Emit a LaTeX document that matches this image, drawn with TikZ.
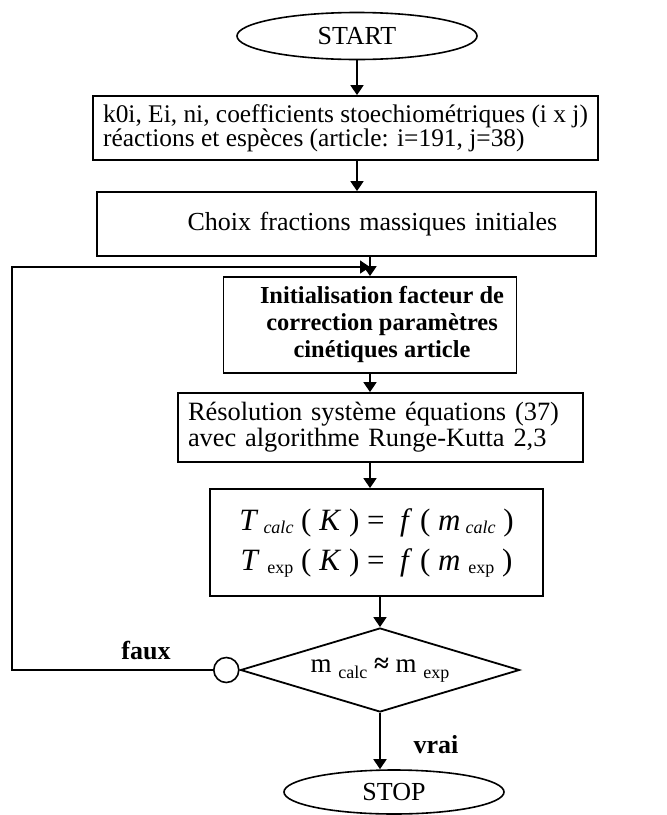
\documentclass[tikz,border=0pt]{standalone}
\usepackage{fontspec}
\setmainfont{Liberation Serif}
\usetikzlibrary{arrows.meta,positioning,shapes.geometric}
\tikzset{
  term/.style={ellipse, draw, line width=0.8pt, inner sep=0pt,
               font=\fontsize{13}{13}\selectfont},
  proc/.style={rectangle, draw, line width=0.9pt, inner sep=0pt,
               font=\fontsize{13}{12}\selectfont},
  test/.style={diamond, draw, line width=0.9pt, inner sep=0pt, aspect=3.3,
               font=\fontsize{13.5}{14}\selectfont},
  flow/.style={-{Triangle[length=5pt,width=6.5pt]}, line width=0.9pt},
  back/.style={-{Triangle[length=5pt,width=6.5pt]}, line width=0.7pt},
  tag/.style={font=\bfseries\fontsize{13}{14}\selectfont}
}
\newcommand{\lowsub}[2]{\raisebox{#1}{\fontsize{9}{9}\selectfont #2}}

\begin{document}
\begin{tikzpicture}[x=0.5pt,y=-0.5pt]
  \useasboundingbox (0,0) rectangle (666,815);

  % start and input blocks
  \node[term, minimum width=120pt, minimum height=23.5pt] (start) at (357,36) {START};
  \node[proc, minimum width=252.5pt, minimum height=32pt, align=left,
        font=\fontsize{12.7}{12}\selectfont]
    (box1) at (345.5,128)
    {k0i, Ei, ni, coefficients stoechiométriques (i x j)\\
     réactions et espèces (article: i=191, j=38)};
  \node[proc, minimum width=249.5pt, minimum height=32pt, text width=241pt, align=left]
    (box2) at (346.5,224) {\hspace*{41pt}Choix fractions massiques initiales};

  % loop body
  \node[proc, minimum width=146.5pt, minimum height=48pt, align=center,
        font=\bfseries\fontsize{12.2}{13.5}\selectfont]
    (box3) at (370,325)
    {\hspace*{12pt}Initialisation facteur de\\
     \hspace*{12pt}correction paramètres\\
     \hspace*{12pt}cinétiques article};
  \node[proc, minimum width=202.5pt, minimum height=34.5pt, text width=192.5pt, align=left,
        font=\fontsize{13.2}{11}\selectfont]
    (box4) at (380.5,427.5)
    {Résolution système équations (37)\\
     avec algorithme Runge-Kutta 2,3};
  \node[proc, minimum width=166.5pt, minimum height=53.5pt, align=center,
        font=\fontsize{15.5}{20}\selectfont]
    (box5) at (376.5,542.5)
    {\textit{T}\,\lowsub{-1.5pt}{\itshape calc} ( \textit{K} ) = \ \textit{f} ( \textit{m}\,\lowsub{-1.5pt}{\itshape calc} )\\
     \textit{T} \lowsub{-1.5pt}{exp} ( \textit{K} ) = \ \textit{f} ( \textit{m} \lowsub{-1.5pt}{exp} )};

  % test and end
  \node[test, minimum width=139.5pt, minimum height=42pt] (dec) at (380,670)
    {m \lowsub{-3pt}{calc} \textbf{≈} m \lowsub{-3pt}{exp}};
  \node[circle, draw, line width=0.8pt, minimum size=12.5pt, inner sep=0pt, anchor=east]
    (circ) at (dec.west) {};
  \node[term, minimum width=110pt, minimum height=22pt] (stop) at (394,792) {STOP};

  \node[tag] (faux) at (146,650) {faux};
  \node[tag] (vrai) at (436,745) {vrai};

  \coordinate (lft) at (12,267);
  \coordinate (join) at (box3.north |- lft);

  % connectors
  \draw[flow] (start.south) -- (start.south |- box1.north);
  \draw[flow] (box1.south -| start) -- (box2.north -| start);
  \draw[flow] (box2.south -| box3) -- (box3.north);
  \draw[back] (circ.west) -| (lft) -- (join);
  \draw[flow] (box3.south) -- (box3.south |- box4.north);
  \draw[flow] (box4.south -| box3) -- (box5.north -| box3);
  \draw[flow] (box5.south -| dec) -- (dec.north);
  \draw[flow] (dec.south) -- (dec.south |- stop.north);
\end{tikzpicture}
\end{document}
